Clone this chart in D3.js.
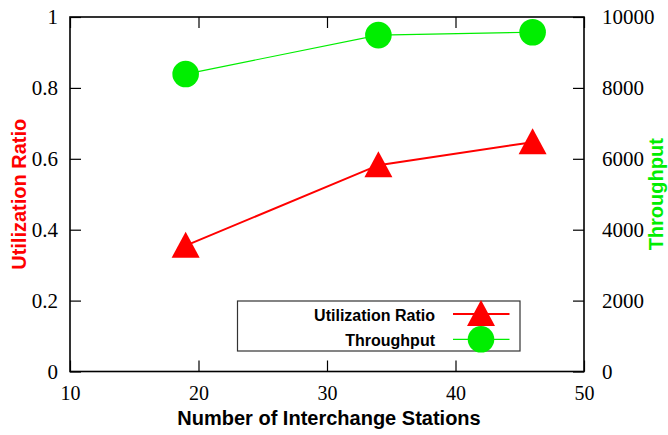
<!DOCTYPE html>
<html>
<head>
<meta charset="utf-8">
<script src="https://cdn.jsdelivr.net/npm/d3@7"></script>
<style>
  html, body { margin: 0; padding: 0; background: #fff; }
  svg { display: block; }
  .tick text { font-family: "Liberation Serif", "Times New Roman", Times, "DejaVu Serif", serif; }
</style>
</head>
<body>
<div id="chart"></div>
<script>
// Interchange stations vs. utilization ratio (left axis) and throughput (right axis)
const stations = [19, 34, 46];
const utilization = [0.355, 0.582, 0.647];
const throughput = [8390, 9490, 9570];

const xTicks = [10, 20, 30, 40, 50];
const yTicks = [0, 0.2, 0.4, 0.6, 0.8, 1];
const y2Ticks = [0, 2000, 4000, 6000, 8000, 10000];

const seriesNames = ["Utilization Ratio", "Throughput"];
const xTitle = "Number of Interchange Stations";

const W = 668, H = 435;
const plot = { left: 70, right: 584, top: 17, bottom: 371.5 };
const RED = "#ff0000", GREEN = "#00ee00";
const serif = '"Liberation Serif", "Times New Roman", Times, "DejaVu Serif", serif';
const sans = '"Liberation Sans", Arial, Helvetica, sans-serif';

const svg = d3.select("#chart").append("svg")
  .attr("width", W).attr("height", H);

const x = d3.scaleLinear().domain([10, 50]).range([plot.left, plot.right]);
const y = d3.scaleLinear().domain([0, 1]).range([plot.bottom, plot.top]);
const y2 = d3.scaleLinear().domain([0, 10000]).range([plot.bottom, plot.top]);

const tickLen = 11;

// Inward ticks: bottom and top for x, left for y, right for y2
const xAxisB = d3.axisBottom(x).tickValues(xTicks).tickSize(-tickLen).tickFormat(d3.format("d")).tickPadding(14);
const xAxisT = d3.axisTop(x).tickValues(xTicks).tickSize(-tickLen).tickFormat("");
const yAxisL = d3.axisLeft(y).tickValues(yTicks).tickSize(-tickLen).tickFormat(d => d3.format("~g")(d)).tickPadding(12);
const yAxisR = d3.axisRight(y2).tickValues(y2Ticks).tickSize(-tickLen).tickFormat(d3.format("d")).tickPadding(18);

function styleAxis(g) {
  g.attr("font-family", null).attr("font-size", null);
  g.select(".domain").remove();
  g.selectAll(".tick line").attr("stroke", "#000").attr("stroke-width", 1.2);
  g.selectAll(".tick text")
    .style("font-family", serif).style("font-size", "21px").attr("fill", "#000");
}

svg.append("g").attr("transform", `translate(0,${plot.bottom})`).call(xAxisB).call(styleAxis)
  .selectAll(".tick text").attr("dy", "0.72em").style("font-size", "20px");
svg.append("g").attr("transform", `translate(0,${plot.top})`).call(xAxisT).call(styleAxis);
svg.append("g").attr("transform", `translate(${plot.left},0)`).call(yAxisL).call(styleAxis);
svg.append("g").attr("transform", `translate(${plot.right},0)`).call(yAxisR).call(styleAxis);

// Plot border
svg.append("rect")
  .attr("x", plot.left).attr("y", plot.top)
  .attr("width", plot.right - plot.left).attr("height", plot.bottom - plot.top)
  .attr("fill", "none").attr("stroke", "#000").attr("stroke-width", 1.6);

// Marker shapes
function triPath(cx, cy) {
  return `M${cx},${cy - 14}L${cx + 14},${cy + 12}L${cx - 14},${cy + 12}Z`;
}

const utilData = stations.map((s, i) => ({ x: s, v: utilization[i] }));
const thrData = stations.map((s, i) => ({ x: s, v: throughput[i] }));

// Throughput series
svg.append("path").datum(thrData)
  .attr("d", d3.line().x(d => x(d.x)).y(d => y2(d.v)))
  .attr("fill", "none").attr("stroke", GREEN).attr("stroke-width", 1.2);
svg.selectAll("circle.thr").data(thrData).enter().append("circle")
  .attr("class", "thr")
  .attr("cx", d => x(d.x)).attr("cy", d => y2(d.v)).attr("r", 13.3)
  .attr("fill", GREEN);

// Utilization series
svg.append("path").datum(utilData)
  .attr("d", d3.line().x(d => x(d.x)).y(d => y(d.v)))
  .attr("fill", "none").attr("stroke", RED).attr("stroke-width", 2);
svg.selectAll("path.util").data(utilData).enter().append("path")
  .attr("class", "util")
  .attr("d", d => triPath(x(d.x), y(d.v)))
  .attr("fill", RED);

// Legend
const leg = svg.append("g");
leg.append("rect")
  .attr("x", 237.5).attr("y", 301).attr("width", 282.5).attr("height", 50)
  .attr("fill", "#fff").attr("stroke", "#333").attr("stroke-width", 1.2);
const rows = [
  { name: seriesNames[0], y: 314, color: RED, width: 2, tri: true },
  { name: seriesNames[1], y: 339.3, color: GREEN, width: 1.2, tri: false }
];
rows.forEach(r => {
  leg.append("text")
    .attr("x", 435).attr("y", r.y + 6.5)
    .attr("text-anchor", "end")
    .style("font-family", sans).style("font-weight", "bold").style("font-size", "16px")
    .attr("fill", "#000").text(r.name);
  leg.append("line")
    .attr("x1", 453).attr("x2", 509.5).attr("y1", r.y).attr("y2", r.y)
    .attr("stroke", r.color).attr("stroke-width", r.width);
  if (r.tri) {
    leg.append("path").attr("d", triPath(481, r.y)).attr("fill", r.color);
  } else {
    leg.append("circle").attr("cx", 481).attr("cy", r.y).attr("r", 13.3).attr("fill", r.color);
  }
});

// Axis titles
svg.append("text")
  .attr("x", (plot.left + plot.right) / 2 + 2).attr("y", 425)
  .attr("text-anchor", "middle")
  .style("font-family", sans).style("font-weight", "bold").style("font-size", "20px")
  .attr("fill", "#000").text(xTitle);

svg.append("text")
  .attr("transform", `translate(26,${(plot.top + plot.bottom) / 2}) rotate(-90)`)
  .attr("text-anchor", "middle")
  .style("font-family", sans).style("font-weight", "bold").style("font-size", "20px")
  .attr("fill", RED).text(seriesNames[0]);

svg.append("text")
  .attr("transform", `translate(663,${(plot.top + plot.bottom) / 2}) rotate(-90)`)
  .attr("text-anchor", "middle")
  .style("font-family", sans).style("font-weight", "bold").style("font-size", "20px")
  .attr("fill", GREEN).text(seriesNames[1]);
</script>
</body>
</html>
